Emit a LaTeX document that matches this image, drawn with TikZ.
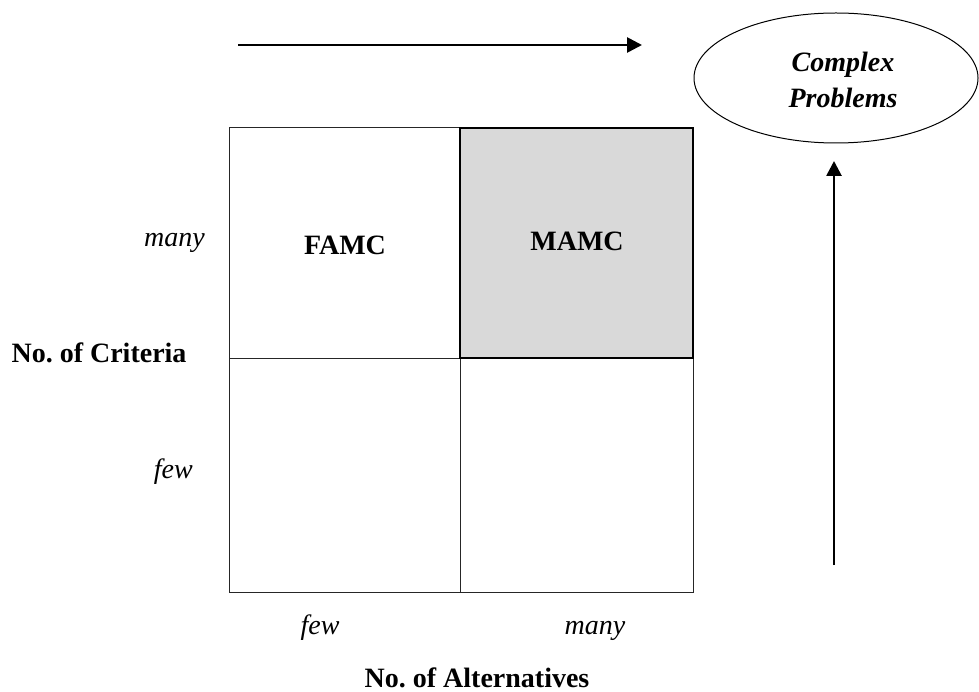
\documentclass[tikz,border=0pt]{standalone}
\usepackage{fontspec}
\setmainfont{Liberation Serif}
\usetikzlibrary{shapes.geometric,arrows.meta}
\definecolor{cellgray}{HTML}{D9D9D9}
\tikzset{
  grid line/.style={draw=black!85, line width=1pt},
  bold cell/.style={draw=black, line width=2.3pt, fill=cellgray},
  lbl/.style={inner sep=0pt, font=\fontsize{28}{36}\selectfont},
  bigarrow/.style={line width=2.7pt, -{Triangle[length=15pt,width=15pt]}},
}
\begin{document}
\frenchspacing
\begin{tikzpicture}[x=1pt,y=-1pt]
\useasboundingbox (0,0) rectangle (979,692);
% grid
\draw[bold cell] (460,128) rectangle (693,358);
\draw[grid line] (229,128) rectangle (460,358);
\draw[grid line] (229,358) rectangle (460,592);
\draw[grid line] (460,358) rectangle (693,592);
\draw[bold cell, fill=none] (460,128) rectangle (693,358);
% cell labels
\node[lbl, font=\fontsize{28}{36}\selectfont\bfseries, anchor=base] (famc) at (345,255) {FAMC};
\node[lbl, font=\fontsize{28}{36}\selectfont\bfseries, anchor=base] (mamc) at (577,251) {MAMC};
% axis labels
\node[lbl, font=\fontsize{28}{36}\selectfont\itshape, anchor=base east] (cmany) at (205,247) {many};
\node[lbl, font=\fontsize{28}{36}\selectfont\itshape, anchor=base east] (cfew) at (193,478) {few};
\node[lbl, font=\fontsize{28}{36}\selectfont\bfseries, anchor=base] (crit) at (99,362) {No. of Criteria};
\node[lbl, font=\fontsize{28}{36}\selectfont\itshape, anchor=base] (afew) at (320,634) {few};
\node[lbl, font=\fontsize{28}{36}\selectfont\itshape, anchor=base] (amany) at (595,634) {many};
\node[lbl, font=\fontsize{28}{36}\selectfont\bfseries, anchor=base] (alt) at (477,687) {No. of Alternatives};
% ellipse
\node[ellipse, draw, line width=1pt, minimum width=284pt, minimum height=130pt, inner sep=0pt] (cp) at (836,78) {};
\node[lbl, align=center, font=\fontsize{28}{36}\selectfont\bfseries\itshape, anchor=base] (cptext) at (843,108) {Complex\\Problems};
% arrows
\coordinate (hstart) at (238,45);
\coordinate (hend) at (642,45);
\coordinate (vstart) at (834,565);
\coordinate (vend) at (834,161);
\draw[bigarrow] (hstart) -- (hend);
\draw[bigarrow] (vstart) -- (vend);
\end{tikzpicture}
\end{document}
